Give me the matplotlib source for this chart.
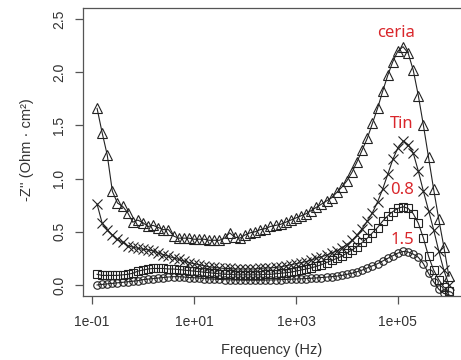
import numpy as np
import matplotlib
matplotlib.use("Agg")
import matplotlib.pyplot as plt

# log10 of frequency (Hz), 10 points per decade
log_freq = [-0.9, -0.8, -0.7, -0.6, -0.5, -0.4, -0.3, -0.2, -0.1, 0.0,
            0.1, 0.2, 0.3, 0.4, 0.5, 0.6, 0.7, 0.8, 0.9, 1.0,
            1.1, 1.2, 1.3, 1.4, 1.5, 1.6, 1.7, 1.8, 1.9, 2.0,
            2.1, 2.2, 2.3, 2.4, 2.5, 2.6, 2.7, 2.8, 2.9, 3.0,
            3.1, 3.2, 3.3, 3.4, 3.5, 3.6, 3.7, 3.8, 3.9, 4.0,
            4.1, 4.2, 4.3, 4.4, 4.5, 4.6, 4.7, 4.8, 4.9, 5.0,
            5.1, 5.2, 5.3, 5.4, 5.5, 5.6, 5.7, 5.8, 5.9, 6.0]

ceria = [1.66, 1.43, 1.22, 0.88, 0.77, 0.74, 0.68, 0.59, 0.61, 0.585,
         0.55, 0.56, 0.54, 0.52, 0.52, 0.46, 0.44, 0.44, 0.44, 0.43,
         0.43, 0.43, 0.42, 0.42, 0.42, 0.44, 0.49, 0.45, 0.44, 0.47,
         0.49, 0.50, 0.52, 0.53, 0.55, 0.56, 0.57, 0.59, 0.61, 0.63,
         0.65, 0.67, 0.70, 0.73, 0.76, 0.79, 0.82, 0.87, 0.92, 0.98,
         1.06, 1.16, 1.27, 1.38, 1.52, 1.66, 1.82, 1.97, 2.10, 2.20,
         2.24, 2.18, 2.02, 1.78, 1.50, 1.20, 0.90, 0.62, 0.36, 0.08]

tin = [0.76, 0.58, 0.52, 0.47, 0.43, 0.40, 0.37, 0.355, 0.345, 0.335,
       0.33, 0.32, 0.30, 0.285, 0.27, 0.255, 0.24, 0.225, 0.21, 0.20,
       0.19, 0.18, 0.17, 0.165, 0.16, 0.155, 0.155, 0.15, 0.15, 0.15,
       0.15, 0.15, 0.155, 0.16, 0.16, 0.165, 0.17, 0.18, 0.19, 0.20,
       0.21, 0.22, 0.235, 0.25, 0.265, 0.28, 0.30, 0.32, 0.35, 0.38,
       0.42, 0.47, 0.53, 0.60, 0.68, 0.78, 0.90, 1.04, 1.18, 1.29,
       1.35, 1.32, 1.24, 1.07, 0.88, 0.70, 0.52, 0.32, 0.14, 0.0]

s08 = [0.10, 0.09, 0.09, 0.09, 0.09, 0.095, 0.10, 0.11, 0.13, 0.14,
       0.15, 0.155, 0.155, 0.155, 0.15, 0.15, 0.145, 0.14, 0.135, 0.13,
       0.125, 0.12, 0.115, 0.11, 0.105, 0.10, 0.10, 0.095, 0.095, 0.095,
       0.095, 0.095, 0.095, 0.10, 0.10, 0.105, 0.11, 0.115, 0.12, 0.13,
       0.14, 0.15, 0.16, 0.175, 0.19, 0.21, 0.23, 0.25, 0.27, 0.30,
       0.33, 0.36, 0.40, 0.44, 0.49, 0.54, 0.60, 0.65, 0.69, 0.72,
       0.735, 0.72, 0.67, 0.58, 0.44, 0.27, 0.14, 0.05, -0.02, -0.06]

s15 = [0.0, 0.005, 0.01, 0.015, 0.02, 0.025, 0.03, 0.035, 0.04, 0.05,
       0.055, 0.06, 0.065, 0.07, 0.075, 0.078, 0.078, 0.075, 0.07, 0.068,
       0.065, 0.06, 0.057, 0.055, 0.052, 0.05, 0.048, 0.047, 0.046, 0.045,
       0.045, 0.045, 0.045, 0.046, 0.047, 0.048, 0.05, 0.052, 0.054, 0.056,
       0.058, 0.06, 0.063, 0.066, 0.07, 0.074, 0.078, 0.083, 0.09, 0.10,
       0.11, 0.125, 0.14, 0.16, 0.18, 0.20, 0.225, 0.25, 0.275, 0.30,
       0.315, 0.31, 0.29, 0.26, 0.20, 0.11, 0.03, -0.04, -0.08, -0.09]

labels = ["ceria", "Tin", "0.8", "1.5"]
label_log_x = [4.96, 5.08, 5.08, 5.08]
label_y = [2.37, 1.51, 0.89, 0.42]

x_ticks = [0.1, 10, 1000, 100000]
x_tick_labels = ["1e-01", "1e+01", "1e+03", "1e+05"]
y_ticks = [0.0, 0.5, 1.0, 1.5, 2.0, 2.5]

plt.rcParams['font.family'] = ['Liberation Sans', 'DejaVu Sans']

fig = plt.figure(figsize=(4.61, 3.60), dpi=100)
ax_left, ax_right, ax_bottom, ax_top = 83, 463, 295.6, 8.4
ax = fig.add_axes([ax_left / 461, (360 - ax_bottom) / 360,
                   (ax_right - ax_left) / 461, (ax_bottom - ax_top) / 360])

freq = 10 ** np.array(log_freq)
lc = '#222222'
common = dict(color=lc, lw=0.8, mfc='none', mec=lc, mew=0.8)
ax.plot(freq, s15, marker='o', ms=5.4, **common)
ax.plot(freq, s08, marker='s', ms=6.0, **common)
ax.plot(freq, tin, marker='x', ms=6.8, **common)
ax.plot(freq, ceria, marker='^', ms=7.8, **common)

for t, lx, ly in zip(labels, label_log_x, label_y):
    ax.text(10 ** lx, ly, t, color='#d9262b', fontsize=12, family='Noto Sans',
            ha='center', va='center')

ax.set_xscale('log')
ax.set_xlim(10 ** -1.176, 10 ** 6.276)
ax.set_ylim(-0.1, 2.6)
ax.set_xticks(x_ticks)
ax.set_xticklabels(x_tick_labels)
ax.minorticks_off()
ax.set_yticks(y_ticks)
ax.set_yticklabels([f"{v:.1f}" for v in y_ticks], rotation=90, va='center')

gc = '#555555'
for s in ax.spines.values():
    s.set_color(gc)
    s.set_linewidth(0.9)
ax.tick_params(direction='out', length=6, width=0.9, color=gc, labelcolor='#333333',
               labelsize=10)
ax.tick_params(axis='x', pad=8)
ax.tick_params(axis='y', pad=6)

w = ax_right - ax_left
h = ax_bottom - ax_top
ax.set_xlabel("Frequency (Hz)", fontsize=10.5, color='#333333')
ax.xaxis.set_label_coords((272 - ax_left) / w, -(350 - ax_bottom) / h)
ax.xaxis.label.set_va('center')
ax.set_ylabel("-Z'' (Ohm · cm²)", fontsize=10.5, color='#333333')
ax.yaxis.set_label_coords(-(ax_left - 27) / w, (ax_bottom - 150) / h)
ax.yaxis.label.set_va('center')

fig.savefig("out.png", dpi=100)
